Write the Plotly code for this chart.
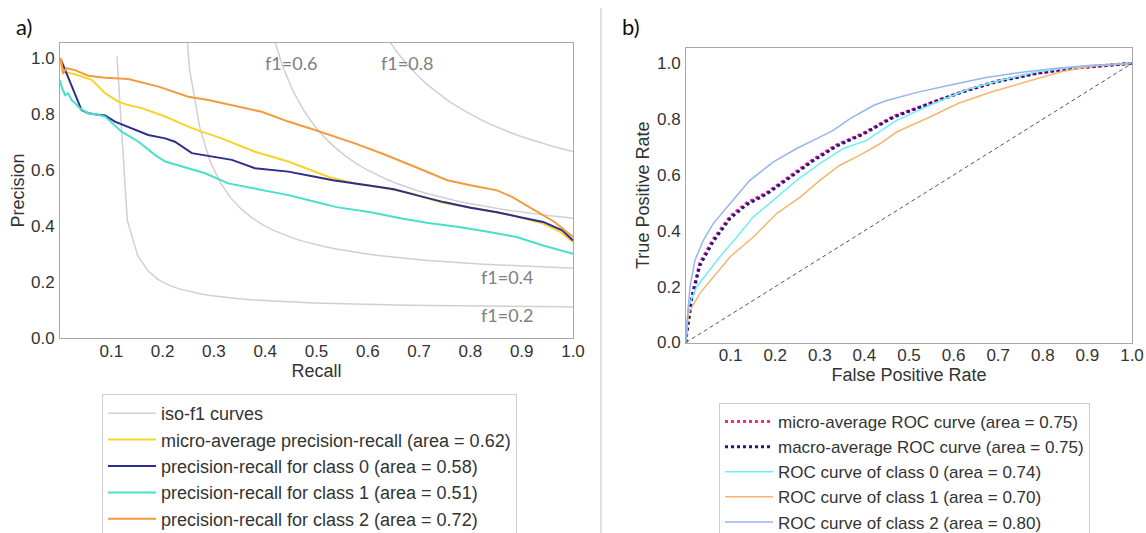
import numpy as np
import plotly.graph_objects as go

W, H = 1146, 533

# ---------------- Precision-recall data ----------------
pr_micro_recall = [0.0, 0.002, 0.006, 0.029, 0.062, 0.088, 0.114, 0.133, 0.159, 0.205, 0.250,
                   0.276, 0.315, 0.380, 0.445, 0.497, 0.524, 0.576, 0.629, 0.688, 0.740,
                   0.815, 0.890, 0.942, 0.975, 1.0]
pr_micro_precision = [0.990, 0.980, 0.952, 0.943, 0.923, 0.875, 0.845, 0.833, 0.822, 0.792, 0.756,
                      0.738, 0.714, 0.666, 0.631, 0.595, 0.576, 0.552, 0.538, 0.516, 0.486,
                      0.462, 0.435, 0.409, 0.380, 0.343]

pr_c0_recall = [0.0, 0.003, 0.042, 0.055, 0.075, 0.088, 0.107, 0.140, 0.172, 0.205, 0.224,
                0.257, 0.276, 0.335, 0.380, 0.445, 0.497, 0.532, 0.599, 0.651, 0.696,
                0.748, 0.800, 0.852, 0.897, 0.942, 0.979, 1.0]
pr_c0_precision = [1.0, 0.990, 0.815, 0.804, 0.798, 0.796, 0.774, 0.750, 0.726, 0.714, 0.702,
                   0.661, 0.655, 0.637, 0.607, 0.595, 0.577, 0.564, 0.546, 0.532, 0.510,
                   0.486, 0.466, 0.450, 0.432, 0.415, 0.385, 0.349]

pr_c1_recall = [0.0, 0.002, 0.006, 0.010, 0.016, 0.023, 0.030, 0.039, 0.055, 0.070, 0.088,
                0.120, 0.153, 0.185, 0.205, 0.250, 0.283, 0.328, 0.380, 0.445, 0.497,
                0.539, 0.606, 0.666, 0.718, 0.778, 0.837, 0.890, 0.942, 1.0]
pr_c1_precision = [0.922, 0.905, 0.885, 0.869, 0.875, 0.850, 0.839, 0.821, 0.804, 0.800, 0.792,
                   0.738, 0.702, 0.655, 0.631, 0.607, 0.589, 0.553, 0.535, 0.511, 0.487,
                   0.468, 0.450, 0.427, 0.411, 0.397, 0.379, 0.361, 0.331, 0.301]

pr_c2_recall = [0.0, 0.002, 0.006, 0.012, 0.029, 0.055, 0.088, 0.133, 0.192, 0.250, 0.289,
                0.335, 0.393, 0.445, 0.497, 0.576, 0.629, 0.688, 0.755, 0.800, 0.852,
                0.882, 0.927, 0.964, 1.0]
pr_c2_precision = [0.985, 1.0, 0.945, 0.965, 0.958, 0.938, 0.931, 0.926, 0.899, 0.863, 0.851,
                   0.833, 0.809, 0.774, 0.744, 0.695, 0.659, 0.615, 0.564, 0.546, 0.528,
                   0.504, 0.456, 0.415, 0.361]

f1_levels = [0.2, 0.4, 0.6, 0.8]
f1_label_pos = {0.2: (0.872, 0.082), 0.4: (0.871, 0.217), 0.6: (0.450, 0.984), 0.8: (0.677, 0.984)}

# ---------------- ROC data ----------------
roc_micro_fpr = [0.0, 0.0015, 0.013, 0.031, 0.061, 0.099, 0.136, 0.181, 0.233, 0.285, 0.338,
                 0.398, 0.465, 0.558, 0.627, 0.696, 0.787, 0.864, 1.0]
roc_micro_tpr = [0.0, 0.036, 0.166, 0.285, 0.370, 0.452, 0.500, 0.537, 0.596, 0.656, 0.708,
                 0.750, 0.810, 0.865, 0.903, 0.936, 0.965, 0.982, 1.0]

roc_macro_fpr = [0.0, 0.0015, 0.013, 0.031, 0.061, 0.099, 0.136, 0.181, 0.233, 0.285, 0.338,
                 0.398, 0.465, 0.558, 0.627, 0.696, 0.787, 0.864, 1.0]
roc_macro_tpr = [0.0, 0.030, 0.158, 0.276, 0.362, 0.445, 0.494, 0.532, 0.591, 0.651, 0.704,
                 0.747, 0.807, 0.863, 0.901, 0.934, 0.964, 0.982, 1.0]

roc_c0_fpr = [0.0, 0.005, 0.024, 0.046, 0.076, 0.114, 0.151, 0.196, 0.248, 0.300, 0.353,
              0.405, 0.472, 0.558, 0.635, 0.711, 0.787, 0.864, 1.0]
roc_c0_tpr = [0.0, 0.128, 0.200, 0.247, 0.307, 0.378, 0.450, 0.510, 0.581, 0.641, 0.695,
              0.724, 0.796, 0.858, 0.909, 0.941, 0.970, 0.985, 1.0]

roc_c1_fpr = [0.0, 0.005, 0.031, 0.061, 0.099, 0.151, 0.203, 0.256, 0.300, 0.345, 0.390,
              0.435, 0.472, 0.543, 0.612, 0.688, 0.765, 0.841, 0.917, 1.0]
roc_c1_tpr = [0.0, 0.104, 0.176, 0.235, 0.307, 0.378, 0.462, 0.521, 0.581, 0.635, 0.671,
              0.712, 0.754, 0.805, 0.858, 0.899, 0.935, 0.970, 0.992, 1.0]

roc_c2_fpr = [0.0, 0.0015, 0.009, 0.020, 0.039, 0.061, 0.099, 0.143, 0.196, 0.248, 0.300,
              0.330, 0.368, 0.420, 0.450, 0.520, 0.596, 0.673, 0.749, 0.826, 0.902, 1.0]
roc_c2_tpr = [0.0, 0.057, 0.200, 0.295, 0.367, 0.426, 0.498, 0.581, 0.647, 0.695, 0.736,
              0.760, 0.802, 0.849, 0.867, 0.897, 0.923, 0.949, 0.967, 0.982, 0.992, 1.0]

chance_line = [0.0, 1.0]

pr_names = ["micro-average precision-recall (area = 0.62)",
            "precision-recall for class 0 (area = 0.58)",
            "precision-recall for class 1 (area = 0.51)",
            "precision-recall for class 2 (area = 0.72)"]
roc_names = ["micro-average ROC curve (area = 0.75)",
             "macro-average ROC curve (area = 0.75)",
             "ROC curve of class 0 (area = 0.74)",
             "ROC curve of class 1 (area = 0.70)",
             "ROC curve of class 2 (area = 0.80)"]

SANS = "Liberation Sans, Arial, sans-serif"
TICK_FONT = dict(family=SANS, size=17, color="#333333")
FRAME = "#a8a8a8"

fig = go.Figure()

# iso-f1 reference curves, one trace with gaps between levels
iso_x, iso_y = [], []
xs = np.linspace(0.01, 1, 50)
for f in f1_levels:
    ys = f * xs / (2 * xs - f)
    keep = ys >= 0
    iso_x += list(xs[keep]) + [None]
    iso_y += list(ys[keep]) + [None]
fig.add_trace(go.Scatter(x=iso_x, y=iso_y, mode="lines", name="iso-f1 curves",
                         line=dict(color="#d0d0d0", width=1.5), legend="legend",
                         xaxis="x", yaxis="y"))

pr_series = [(pr_micro_recall, pr_micro_precision, "#f7d42a"),
             (pr_c0_recall, pr_c0_precision, "#2e2e8c"),
             (pr_c1_recall, pr_c1_precision, "#48dfcc"),
             (pr_c2_recall, pr_c2_precision, "#f59a3c")]
for (rx, py_, col), nm in zip(pr_series, pr_names):
    fig.add_trace(go.Scatter(x=rx, y=py_, mode="lines", name=nm,
                             line=dict(color=col, width=2), legend="legend",
                             xaxis="x", yaxis="y"))

# ROC curves
fig.add_trace(go.Scatter(x=roc_micro_fpr, y=roc_micro_tpr, mode="lines", name=roc_names[0],
                         line=dict(color="#ff1f8f", width=3, dash="dot"), legend="legend2",
                         xaxis="x2", yaxis="y2"))
fig.add_trace(go.Scatter(x=roc_macro_fpr, y=roc_macro_tpr, mode="lines", name=roc_names[1],
                         line=dict(color="#1c1c80", width=3, dash="dot"), legend="legend2",
                         xaxis="x2", yaxis="y2"))
roc_series = [(roc_c0_fpr, roc_c0_tpr, "#6ff0f4"),
              (roc_c1_fpr, roc_c1_tpr, "#f6b66e"),
              (roc_c2_fpr, roc_c2_tpr, "#98b4ec")]
for (fx, ty, col), nm in zip(roc_series, roc_names[2:]):
    fig.add_trace(go.Scatter(x=fx, y=ty, mode="lines", name=nm,
                             line=dict(color=col, width=1.5), legend="legend2",
                             xaxis="x2", yaxis="y2"))
fig.add_trace(go.Scatter(x=chance_line, y=chance_line, mode="lines", showlegend=False,
                         line=dict(color="#555555", width=1, dash="4px,3px"),
                         xaxis="x2", yaxis="y2"))

def px_x(v):
    return v / W

def px_y(v):
    return 1 - v / H

axis_common = dict(showgrid=False, zeroline=False, showline=True, mirror=True,
                   linecolor=FRAME, linewidth=1, ticks="", tickfont=TICK_FONT)
xticks = dict(tickmode="array", tickvals=[0.1, 0.2, 0.3, 0.4, 0.5, 0.6, 0.7, 0.8, 0.9, 1.0],
              ticktext=["0.1", "0.2", "0.3", "0.4", "0.5", "0.6", "0.7", "0.8", "0.9", "1.0"])
yticks = dict(tickmode="array", tickvals=[0.0, 0.2, 0.4, 0.6, 0.8, 1.0],
              ticktext=["0.0", "0.2", "0.4", "0.6", "0.8", "1.0"])
title_font = dict(family=SANS, size=18, color="#333333")

annotations = []
for f in f1_levels:
    ax_, ay_ = f1_label_pos[f]
    annotations.append(dict(x=ax_, y=ay_, xref="x", yref="y", text="f1={0:0.1f}".format(f),
                            showarrow=False, xanchor="center", yanchor="middle",
                            font=dict(family="Lato, sans-serif", size=18, color="#808080")))
annotations.append(dict(x=px_x(14), y=px_y(27), xref="paper", yref="paper", text="a)",
                        showarrow=False, xanchor="left", yanchor="middle",
                        font=dict(family="Lato, sans-serif", size=22, color="#111111")))
annotations.append(dict(x=px_x(620), y=px_y(27), xref="paper", yref="paper", text="b)",
                        showarrow=False, xanchor="left", yanchor="middle",
                        font=dict(family="Lato, sans-serif", size=22, color="#111111")))

legend_common = dict(bgcolor="white", bordercolor="#cccccc", borderwidth=1,
                     xanchor="left", yanchor="top", tracegroupgap=0, itemwidth=48)

fig.update_layout(
    width=W, height=H, margin=dict(l=0, r=0, t=0, b=0, autoexpand=False),
    paper_bgcolor="white", plot_bgcolor="white",
    xaxis=dict(domain=[px_x(60), px_x(573)], range=[0, 1], anchor="y", ticklabelstandoff=-2,
               title=dict(text="Recall", font=title_font, standoff=0), **xticks, **axis_common),
    yaxis=dict(domain=[px_y(338), px_y(43)], range=[0, 1.055], anchor="x", ticklabelstandoff=1,
               title=dict(text="Precision", font=title_font, standoff=1), **yticks, **axis_common),
    xaxis2=dict(domain=[px_x(686), px_x(1132)], range=[0, 1], anchor="y2", ticklabelstandoff=-3,
                title=dict(text="False Positive Rate", font=title_font, standoff=0),
                **xticks, **axis_common),
    yaxis2=dict(domain=[px_y(342.5), px_y(48)], range=[0, 1.055], anchor="x2", ticklabelstandoff=1,
                title=dict(text="True Positive Rate", font=title_font, standoff=2),
                **yticks, **axis_common),
    legend=dict(x=px_x(102), y=px_y(394),
                font=dict(family=SANS, size=18, color="#333333"),
                **legend_common),
    legend2=dict(x=px_x(719), y=px_y(403),
                 font=dict(family=SANS, size=17, color="#333333"),
                 **legend_common),
    annotations=annotations,
    shapes=[dict(type="line", xref="paper", yref="paper", x0=px_x(601), x1=px_x(601),
                 y0=0, y1=px_y(8), line=dict(color="#bdbdbd", width=1))],
    showlegend=True,
)

fig.write_html("out.html")
